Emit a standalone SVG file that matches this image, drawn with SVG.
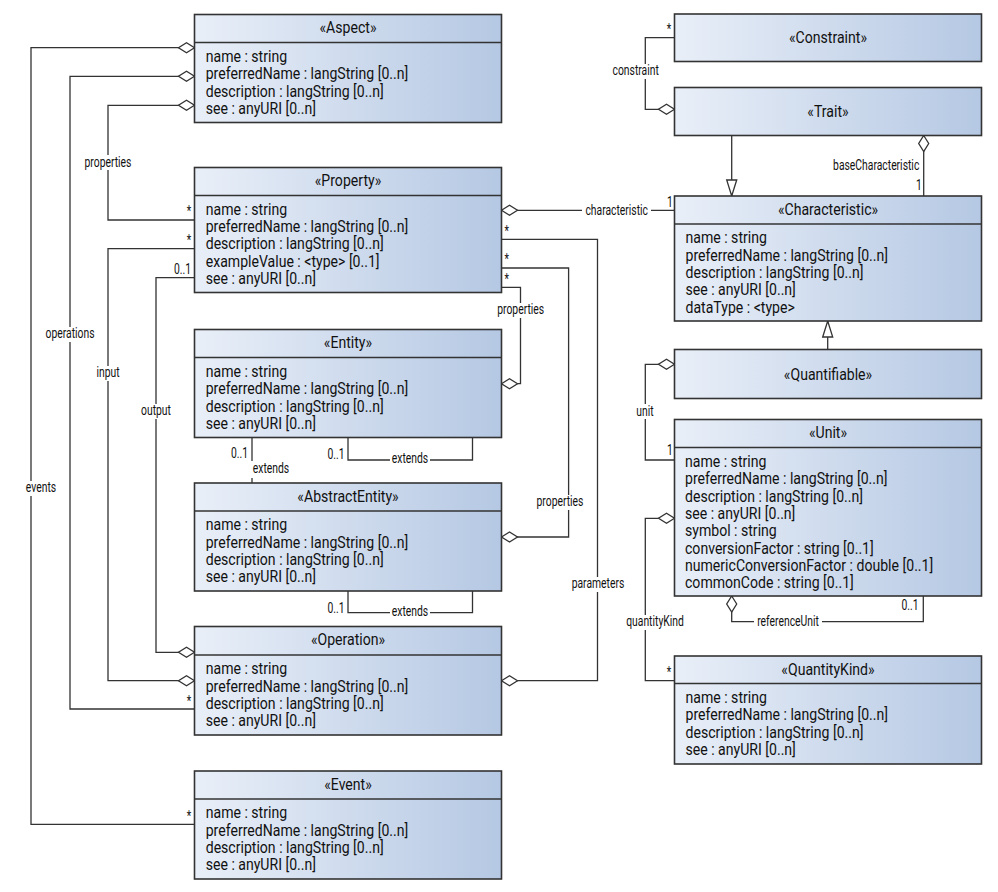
<svg xmlns="http://www.w3.org/2000/svg" width="998" height="892" viewBox="0 0 998 892">
<style>
.box{fill:url(#g);stroke:#333;stroke-width:1.6}
.div{stroke:#333;stroke-width:1.6}
.t{font-family:Roboto,"Liberation Sans",sans-serif;font-size:16px;fill:#111}
.l{font-family:Roboto,"Liberation Sans",sans-serif;font-size:14px;fill:#111}
.c{fill:none;stroke:#333;stroke-width:1.3}
.bg{fill:#fff}
</style>
<defs>
<linearGradient id="g" x1="0" y1="0" x2="1" y2="0">
<stop offset="0" stop-color="#e9eff8"/>
<stop offset="1" stop-color="#b5c8e3"/>
</linearGradient>
<marker id="dia" markerUnits="userSpaceOnUse" markerWidth="20" markerHeight="14" viewBox="-2 -7 20 14" refX="0" refY="0" orient="auto">
<path d="M0,0 L8,-5 L16,0 L8,5 Z" fill="#fff" stroke="#333" stroke-width="1.3"/>
</marker>
<marker id="tri" markerUnits="userSpaceOnUse" markerWidth="20" markerHeight="14" viewBox="-2 -7 20 14" refX="16" refY="0" orient="auto">
<path d="M0,-5 L16,0 L0,5 Z" fill="#fff" stroke="#333" stroke-width="1.3"/>
</marker>
</defs>
<rect width="998" height="892" fill="#fff"/>

<g id="connectors">
<path class="c" marker-start="url(#dia)" d="M194.5,47.7 H31 V824.3 H194.5"/>
<path class="c" marker-start="url(#dia)" d="M194.5,76.3 H70 V709 H194.5"/>
<path class="c" marker-start="url(#dia)" d="M194.5,105.3 H108 V220 H194.5"/>
<path class="c" marker-start="url(#dia)" d="M194.5,680.7 H108 V248.7 H194.5"/>
<path class="c" marker-start="url(#dia)" d="M194.5,652.3 H156 V277.7 H194.5"/>
<path class="c" marker-start="url(#dia)" d="M501.5,210.3 H674.5"/>
<path class="c" marker-start="url(#dia)" d="M501.5,680.7 H597.5 V239.3 H501.5"/>
<path class="c" marker-start="url(#dia)" d="M501.5,537 H568.6 V268 H501.5"/>
<path class="c" marker-start="url(#dia)" d="M501.5,383.7 H520.5 V287.3 H501.5"/>
<path class="c" d="M252,437.5 V483"/>
<path class="c" d="M348,437.5 V460 H472.5 V437.5"/>
<path class="c" d="M348,591 V612.7 H472.5 V591"/>
<path class="c" marker-start="url(#dia)" d="M674.5,109.3 H645.3 V37.7 H674.5"/>
<path class="c" marker-end="url(#tri)" d="M731.7,135.5 V196"/>
<path class="c" marker-start="url(#dia)" d="M923.7,135.5 V196"/>
<path class="c" marker-end="url(#tri)" d="M827.7,349.5 V321"/>
<path class="c" marker-start="url(#dia)" d="M674.5,364.3 H645.3 V460 H674.5"/>
<path class="c" marker-start="url(#dia)" d="M674.5,518.3 H645.3 V680.7 H674.5"/>
<path class="c" marker-start="url(#dia)" d="M731.7,596 V621.7 H923.3 V596"/>

<rect class="bg" x="82" y="155" width="52" height="15"/>
<rect class="bg" x="44" y="327" width="52" height="15"/>
<rect class="bg" x="94" y="366" width="28" height="15"/>
<rect class="bg" x="139" y="404" width="34" height="15"/>
<rect class="bg" x="24" y="481" width="34" height="15"/>
<rect class="bg" x="582" y="203" width="69" height="15"/>
<rect class="bg" x="495" y="303" width="52" height="15"/>
<rect class="bg" x="534" y="495" width="52" height="15"/>
<rect class="bg" x="569" y="577" width="58" height="15"/>
<rect class="bg" x="251" y="461" width="40" height="17"/>
<rect class="bg" x="390" y="451" width="40" height="15"/>
<rect class="bg" x="390" y="605" width="40" height="15"/>
<rect class="bg" x="610" y="64" width="52" height="15"/>
<rect class="bg" x="632" y="404" width="26" height="15"/>
<rect class="bg" x="624" y="615" width="62" height="15"/>
<rect class="bg" x="754" y="615" width="68" height="15"/>

<text class="l" text-anchor="middle" transform="matrix(.74 0 0 1 108 166.5)">properties</text>
<text class="l" text-anchor="middle" transform="matrix(.74 0 0 1 70 338.2)">operations</text>
<text class="l" text-anchor="middle" transform="matrix(.74 0 0 1 108 377.2)">input</text>
<text class="l" text-anchor="middle" transform="matrix(.74 0 0 1 156 415.2)">output</text>
<text class="l" text-anchor="middle" transform="matrix(.74 0 0 1 41 492.2)">events</text>
<text class="l" text-anchor="middle" transform="matrix(.74 0 0 1 616.7 214.5)">characteristic</text>
<text class="l" text-anchor="middle" transform="matrix(.74 0 0 1 520.7 314)">properties</text>
<text class="l" text-anchor="middle" transform="matrix(.74 0 0 1 560 506.2)">properties</text>
<text class="l" text-anchor="middle" transform="matrix(.74 0 0 1 598 588.2)">parameters</text>
<text class="l" text-anchor="middle" transform="matrix(.74 0 0 1 271 473.2)">extends</text>
<text class="l" text-anchor="middle" transform="matrix(.74 0 0 1 410 462.8)">extends</text>
<text class="l" text-anchor="middle" transform="matrix(.74 0 0 1 410 616.2)">extends</text>
<text class="l" text-anchor="middle" transform="matrix(.74 0 0 1 635.7 75.2)">constraint</text>
<text class="l" text-anchor="end" transform="matrix(.74 0 0 1 919.3 169.5)">baseCharacteristic</text>
<text class="l" text-anchor="middle" transform="matrix(.74 0 0 1 645 415.5)">unit</text>
<text class="l" text-anchor="middle" transform="matrix(.74 0 0 1 655 626.2)">quantityKind</text>
<text class="l" text-anchor="middle" transform="matrix(.74 0 0 1 788 626.2)">referenceUnit</text>

<text class="l" text-anchor="middle" transform="matrix(.74 0 0 1 189 216)">*</text>
<text class="l" text-anchor="middle" transform="matrix(.74 0 0 1 189 245)">*</text>
<text class="l" text-anchor="middle" transform="matrix(.74 0 0 1 182.5 274)">0..1</text>
<text class="l" text-anchor="middle" transform="matrix(.74 0 0 1 670 207)">1</text>
<text class="l" text-anchor="middle" transform="matrix(.74 0 0 1 506.7 236)">*</text>
<text class="l" text-anchor="middle" transform="matrix(.74 0 0 1 506.7 264)">*</text>
<text class="l" text-anchor="middle" transform="matrix(.74 0 0 1 506.7 284)">*</text>
<text class="l" text-anchor="middle" transform="matrix(.74 0 0 1 239.5 457.5)">0..1</text>
<text class="l" text-anchor="middle" transform="matrix(.74 0 0 1 336 459.3)">0..1</text>
<text class="l" text-anchor="middle" transform="matrix(.74 0 0 1 336 613)">0..1</text>
<text class="l" text-anchor="middle" transform="matrix(.74 0 0 1 189 706)">*</text>
<text class="l" text-anchor="middle" transform="matrix(.74 0 0 1 189 821)">*</text>
<text class="l" text-anchor="middle" transform="matrix(.74 0 0 1 669 34)">*</text>
<text class="l" text-anchor="middle" transform="matrix(.74 0 0 1 919 190)">1</text>
<text class="l" text-anchor="middle" transform="matrix(.74 0 0 1 670 455)">1</text>
<text class="l" text-anchor="middle" transform="matrix(.74 0 0 1 669 677)">*</text>
<text class="l" text-anchor="middle" transform="matrix(.74 0 0 1 910 610)">0..1</text>
</g>

<g id="aspect">
<rect class="box" x="194.5" y="14.5" width="307" height="108"/>
<line class="div" x1="194.5" y1="42.5" x2="501.5" y2="42.5"/>
<text class="t" text-anchor="middle" transform="matrix(.88 0 0 1 348 33)">«Aspect»</text>
<text class="t" transform="matrix(.88 0 0 1 205.7 62)">name : string</text>
<text class="t" transform="matrix(.88 0 0 1 205.7 79.3)">preferredName : langString [0..n]</text>
<text class="t" transform="matrix(.88 0 0 1 205.7 96.6)">description : langString [0..n]</text>
<text class="t" transform="matrix(.88 0 0 1 205.7 113.9)">see : anyURI [0..n]</text>
</g>

<g id="property">
<rect class="box" x="194.5" y="167.5" width="307" height="125"/>
<line class="div" x1="194.5" y1="195.5" x2="501.5" y2="195.5"/>
<text class="t" text-anchor="middle" transform="matrix(.88 0 0 1 348 186)">«Property»</text>
<text class="t" transform="matrix(.88 0 0 1 205.7 214.8)">name : string</text>
<text class="t" transform="matrix(.88 0 0 1 205.7 232.1)">preferredName : langString [0..n]</text>
<text class="t" transform="matrix(.88 0 0 1 205.7 249.4)">description : langString [0..n]</text>
<text class="t" transform="matrix(.88 0 0 1 205.7 266.7)">exampleValue : &lt;type&gt; [0..1]</text>
<text class="t" transform="matrix(.88 0 0 1 205.7 284)">see : anyURI [0..n]</text>
</g>

<g id="entity">
<rect class="box" x="194.5" y="329.5" width="307" height="108"/>
<line class="div" x1="194.5" y1="357.5" x2="501.5" y2="357.5"/>
<text class="t" text-anchor="middle" transform="matrix(.88 0 0 1 348 348)">«Entity»</text>
<text class="t" transform="matrix(.88 0 0 1 205.7 377)">name : string</text>
<text class="t" transform="matrix(.88 0 0 1 205.7 394.3)">preferredName : langString [0..n]</text>
<text class="t" transform="matrix(.88 0 0 1 205.7 411.6)">description : langString [0..n]</text>
<text class="t" transform="matrix(.88 0 0 1 205.7 428.9)">see : anyURI [0..n]</text>
</g>

<g id="abstractentity">
<rect class="box" x="194.5" y="483" width="307" height="108"/>
<line class="div" x1="194.5" y1="511" x2="501.5" y2="511"/>
<text class="t" text-anchor="middle" transform="matrix(.88 0 0 1 348 501.5)">«AbstractEntity»</text>
<text class="t" transform="matrix(.88 0 0 1 205.7 530.3)">name : string</text>
<text class="t" transform="matrix(.88 0 0 1 205.7 547.6)">preferredName : langString [0..n]</text>
<text class="t" transform="matrix(.88 0 0 1 205.7 564.9)">description : langString [0..n]</text>
<text class="t" transform="matrix(.88 0 0 1 205.7 582.2)">see : anyURI [0..n]</text>
</g>

<g id="operation">
<rect class="box" x="194.5" y="626.5" width="307" height="108.5"/>
<line class="div" x1="194.5" y1="655" x2="501.5" y2="655"/>
<text class="t" text-anchor="middle" transform="matrix(.88 0 0 1 348 645)">«Operation»</text>
<text class="t" transform="matrix(.88 0 0 1 205.7 674.3)">name : string</text>
<text class="t" transform="matrix(.88 0 0 1 205.7 691.6)">preferredName : langString [0..n]</text>
<text class="t" transform="matrix(.88 0 0 1 205.7 708.9)">description : langString [0..n]</text>
<text class="t" transform="matrix(.88 0 0 1 205.7 726.2)">see : anyURI [0..n]</text>
</g>

<g id="event">
<rect class="box" x="194.5" y="771" width="307" height="108"/>
<line class="div" x1="194.5" y1="799" x2="501.5" y2="799"/>
<text class="t" text-anchor="middle" transform="matrix(.88 0 0 1 348 789.5)">«Event»</text>
<text class="t" transform="matrix(.88 0 0 1 205.7 818.3)">name : string</text>
<text class="t" transform="matrix(.88 0 0 1 205.7 835.6)">preferredName : langString [0..n]</text>
<text class="t" transform="matrix(.88 0 0 1 205.7 852.9)">description : langString [0..n]</text>
<text class="t" transform="matrix(.88 0 0 1 205.7 870.2)">see : anyURI [0..n]</text>
</g>

<g id="constraint">
<rect class="box" x="674.5" y="14" width="307" height="47.5"/>
<text class="t" text-anchor="middle" transform="matrix(.88 0 0 1 828 43.2)">«Constraint»</text>
</g>

<g id="trait">
<rect class="box" x="674.5" y="87.5" width="307" height="48"/>
<text class="t" text-anchor="middle" transform="matrix(.88 0 0 1 828 117)">«Trait»</text>
</g>

<g id="characteristic">
<rect class="box" x="674.5" y="196" width="307" height="125"/>
<line class="div" x1="674.5" y1="224" x2="981.5" y2="224"/>
<text class="t" text-anchor="middle" transform="matrix(.88 0 0 1 828 214.5)">«Characteristic»</text>
<text class="t" transform="matrix(.88 0 0 1 685.5 243.3)">name : string</text>
<text class="t" transform="matrix(.88 0 0 1 685.5 260.6)">preferredName : langString [0..n]</text>
<text class="t" transform="matrix(.88 0 0 1 685.5 277.9)">description : langString [0..n]</text>
<text class="t" transform="matrix(.88 0 0 1 685.5 295.2)">see : anyURI [0..n]</text>
<text class="t" transform="matrix(.88 0 0 1 685.5 312.5)">dataType : &lt;type&gt;</text>
</g>

<g id="quantifiable">
<rect class="box" x="674.5" y="349.5" width="307" height="49"/>
<text class="t" text-anchor="middle" transform="matrix(.88 0 0 1 828 379.5)">«Quantifiable»</text>
</g>

<g id="unit">
<rect class="box" x="674.5" y="419.5" width="307" height="176.5"/>
<line class="div" x1="674.5" y1="447.5" x2="981.5" y2="447.5"/>
<text class="t" text-anchor="middle" transform="matrix(.88 0 0 1 828 438)">«Unit»</text>
<text class="t" transform="matrix(.88 0 0 1 685 467)">name : string</text>
<text class="t" transform="matrix(.88 0 0 1 685 484.3)">preferredName : langString [0..n]</text>
<text class="t" transform="matrix(.88 0 0 1 685 501.6)">description : langString [0..n]</text>
<text class="t" transform="matrix(.88 0 0 1 685 518.9)">see : anyURI [0..n]</text>
<text class="t" transform="matrix(.88 0 0 1 685 536.2)">symbol : string</text>
<text class="t" transform="matrix(.88 0 0 1 685 553.5)">conversionFactor : string [0..1]</text>
<text class="t" transform="matrix(.88 0 0 1 685 570.8)">numericConversionFactor : double [0..1]</text>
<text class="t" transform="matrix(.88 0 0 1 685 588.1)">commonCode : string [0..1]</text>
</g>

<g id="quantitykind">
<rect class="box" x="674.5" y="656" width="307" height="108"/>
<line class="div" x1="674.5" y1="683.5" x2="981.5" y2="683.5"/>
<text class="t" text-anchor="middle" transform="matrix(.88 0 0 1 828 674.5)">«QuantityKind»</text>
<text class="t" transform="matrix(.88 0 0 1 685.5 703)">name : string</text>
<text class="t" transform="matrix(.88 0 0 1 685.5 720.3)">preferredName : langString [0..n]</text>
<text class="t" transform="matrix(.88 0 0 1 685.5 737.6)">description : langString [0..n]</text>
<text class="t" transform="matrix(.88 0 0 1 685.5 754.9)">see : anyURI [0..n]</text>
</g>
</svg>
